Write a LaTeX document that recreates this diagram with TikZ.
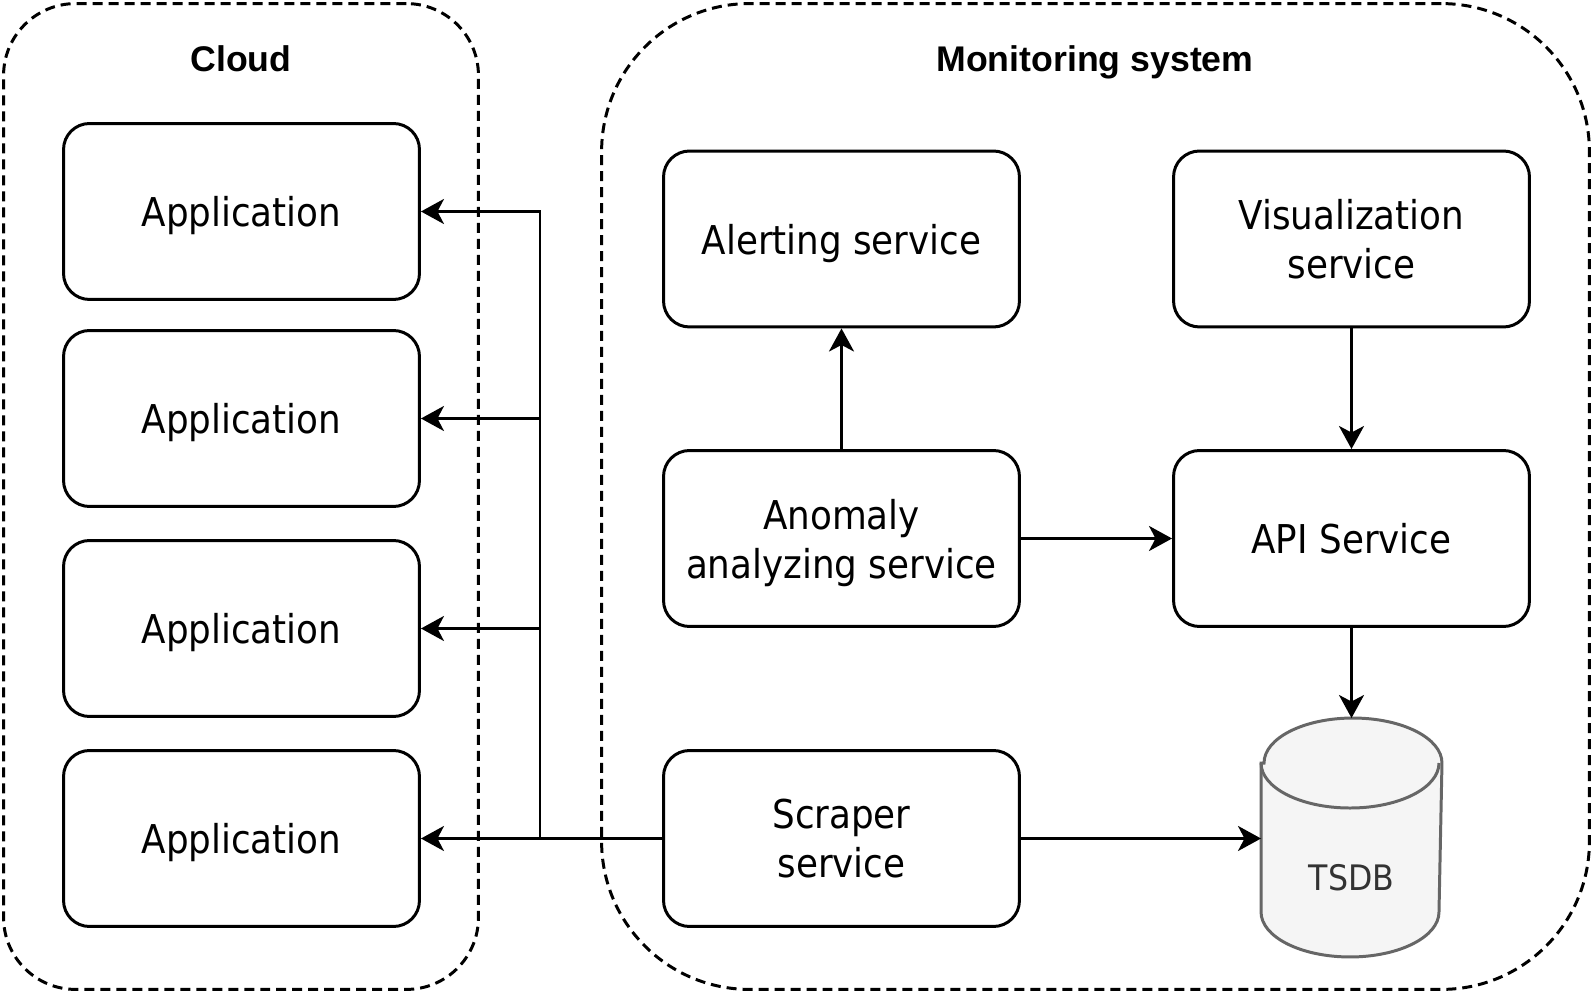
\documentclass[tikz,border=0pt]{standalone}
\usepackage{fontspec}
\setmainfont{DejaVu Sans Condensed}
\newfontfamily\titlefont{Liberation Sans}
\usetikzlibrary{arrows.meta}
\definecolor{txt}{HTML}{000000}
\definecolor{dbfill}{HTML}{F5F5F5}
\definecolor{dbline}{HTML}{666666}
\definecolor{dbtxt}{HTML}{333333}

\begin{document}
\begin{tikzpicture}[
  x=0.02cm, y=-0.02cm,
  >={Stealth[length=0.46cm, width=0.5cm, inset=0.13cm]},
  group/.style={draw=txt, line width=1.7pt, dash pattern=on 0.2cm off 0.12cm, minimum height=19.72cm},
  title/.style={font=\titlefont\bfseries\fontsize{20.3}{24}\selectfont, text=txt, text depth=0pt},
  box/.style={draw=txt, line width=1.7pt, rounded corners=0.52cm, minimum width=7.12cm, minimum height=3.52cm, align=center, text depth=0pt, font=\fontsize{22.6}{27.9}\selectfont},
  db/.style={minimum width=3.56cm, minimum height=4.72cm, inner sep=0pt, outer sep=0.85pt},
  dbshape/.style={draw=dbline, fill=dbfill, line width=1.7pt},
  dblabel/.style={text=dbtxt, font=\fontsize{20}{24}\selectfont},
  arr/.style={->, line width=1.7pt, color=txt},
]
\useasboundingbox (0,0) rectangle (1596,996);

% containers
\node[group, rounded corners=1.44cm, minimum width=9.5cm] (cloud) at (241,496.5) {};
\node[group, rounded corners=2.96cm, minimum width=19.76cm] (monitor) at (1095.5,496.5) {};
\node[title] (cloudtitle) at (241,59) {Cloud};
\node[title] (monitortitle) at (1095,59) {Monitoring system};

% applications
\node[box] (app1) at (241.5,211.5) {Application};
\node[box] (app2) at (241.5,418.5) {Application};
\node[box] (app3) at (241.5,628.5) {Application};
\node[box] (app4) at (241.5,838.5) {Application};

% services
\node[box] (alert) at (841.5,239) {Alerting service};
\node[box] (visual) at (1351.5,239) {Visualization\\service};
\node[box] (anomaly) at (841.5,538.5) {Anomaly\\analyzing service};
\node[box] (api) at (1351.5,538.5) {API Service};
\node[box] (scraper) at (841.5,838.5) {Scraper\\service};

% database
\node[db] (tsdb) at (1351.5,837.5) {};
\filldraw[dbshape] ([yshift=-0.9cm]tsdb.north west) -- ([yshift=0.9cm]tsdb.south west)
  arc[start angle=180, end angle=360, x radius=1.78cm, y radius=0.9cm]
  -- ([yshift=-0.9cm]tsdb.north east)
  arc[start angle=0, end angle=180, x radius=1.78cm, y radius=0.9cm] -- cycle;
\draw[dbshape, fill=none] ([yshift=-0.9cm]tsdb.north west)
  arc[start angle=180, end angle=360, x radius=1.78cm, y radius=0.9cm];
\node[dblabel] (tsdblabel) at (1351.5,878) {TSDB};

\coordinate (split) at (540,838.5);

\draw[arr] (anomaly.north) -- (alert.south);
\draw[arr] (visual.south) -- (api.north);
\draw[arr] (anomaly.east) -- (api.west);
\draw[arr] (api.south) -- (tsdb.north);
\draw[arr] (scraper.east) -- (scraper.east -| tsdb.west);
\draw[arr] (scraper.west) -- (app4.east);
\draw[arr] (split) |- (app1.east);
\draw[arr] (split |- app2.east) -- (app2.east);
\draw[arr] (split |- app3.east) -- (app3.east);

\end{tikzpicture}
\end{document}
